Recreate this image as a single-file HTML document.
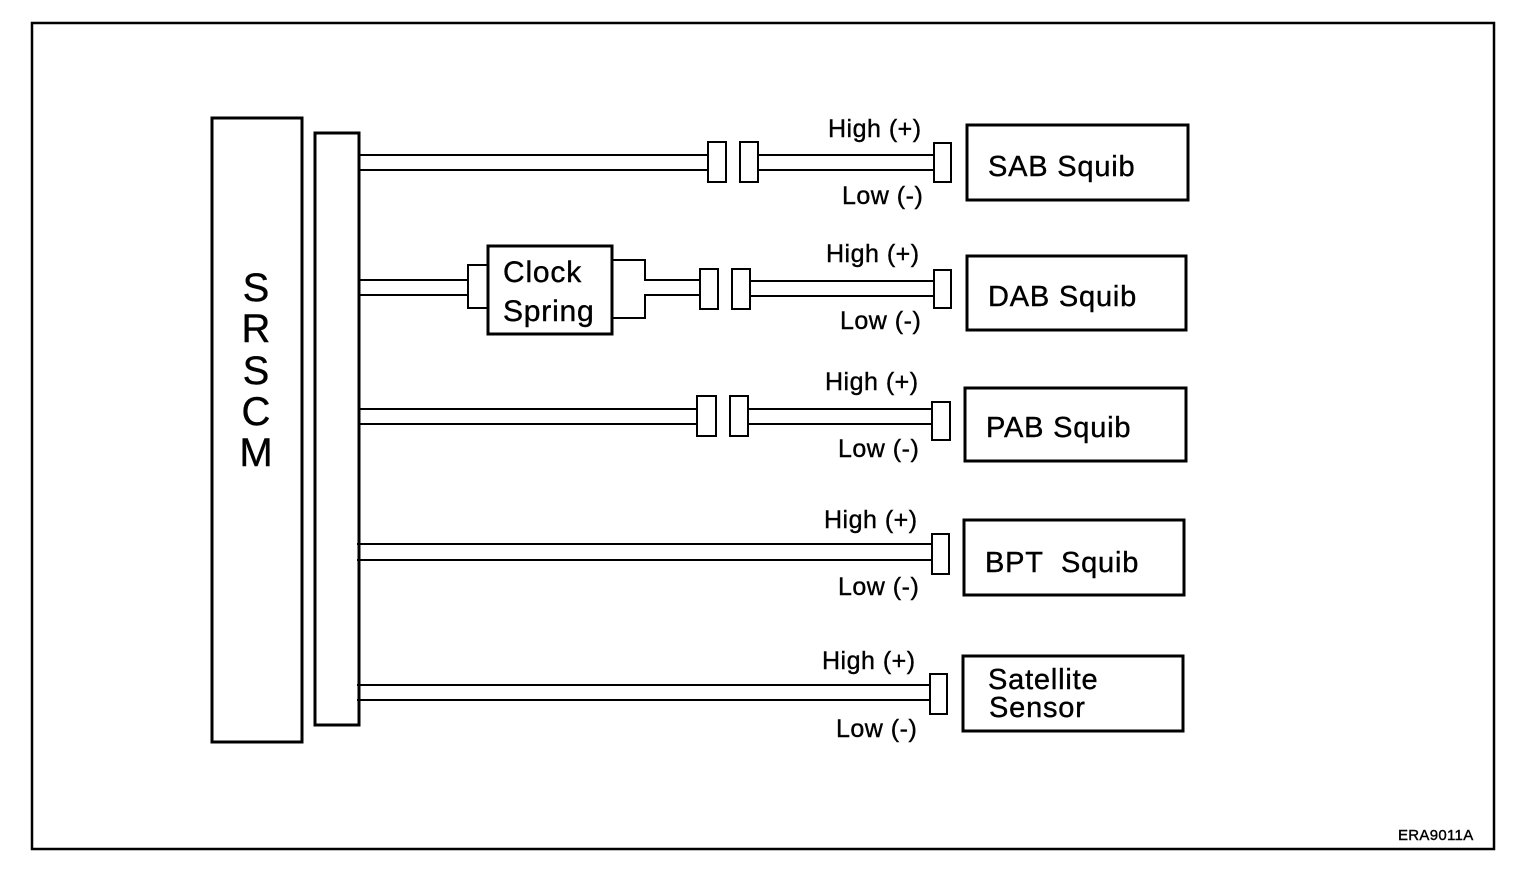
<!DOCTYPE html>
<html><head><meta charset="utf-8"><style>
html,body{margin:0;padding:0;background:#fff;}
svg{display:block;}
text{font-family:"Liberation Sans",Arial,sans-serif;fill:#000;stroke:#000;stroke-width:0.4;}
</style></head><body>
<svg width="1536" height="872" viewBox="0 0 1536 872" xmlns="http://www.w3.org/2000/svg">
<g fill="none" stroke="#000">
<rect x="32" y="23" width="1462" height="826" stroke-width="2.5"/>
<rect x="212" y="118" width="90" height="624" stroke-width="3"/>
<rect x="315" y="133" width="44" height="592" stroke-width="3"/>
<g stroke-width="2">
<line x1="359" y1="155" x2="708" y2="155"/><line x1="359" y1="170" x2="708" y2="170"/>
<rect x="708" y="142" width="18" height="40"/><rect x="740" y="142" width="18" height="40"/>
<line x1="758" y1="155" x2="934" y2="155"/><line x1="758" y1="170" x2="934" y2="170"/>
<rect x="934" y="143" width="17" height="39"/>
<line x1="359" y1="280" x2="468" y2="280"/><line x1="359" y1="295" x2="468" y2="295"/>
<rect x="468" y="265" width="20" height="43"/>
<polyline points="612,260 645,260 645,280 700,280"/>
<polyline points="612,318 645,318 645,295 700,295"/>
<rect x="700" y="269" width="18" height="40"/><rect x="732" y="269" width="18" height="40"/>
<line x1="750" y1="281" x2="934" y2="281"/><line x1="750" y1="296" x2="934" y2="296"/>
<rect x="934" y="270" width="17" height="38"/>
<line x1="359" y1="409" x2="697" y2="409"/><line x1="359" y1="424" x2="697" y2="424"/>
<rect x="697" y="396" width="19" height="40"/><rect x="730" y="396" width="18" height="40"/>
<line x1="748" y1="409" x2="932" y2="409"/><line x1="748" y1="424" x2="932" y2="424"/>
<rect x="932" y="402" width="18" height="38"/>
<line x1="357" y1="544" x2="932" y2="544"/><line x1="357" y1="560" x2="932" y2="560"/>
<rect x="932" y="534" width="17" height="40"/>
<line x1="357" y1="685" x2="930" y2="685"/><line x1="357" y1="700" x2="930" y2="700"/>
<rect x="930" y="674" width="17" height="40"/>
</g>
<g stroke-width="3">
<rect x="488" y="246" width="124" height="88"/>
<rect x="967" y="125" width="221" height="75"/>
<rect x="967" y="256" width="219" height="74"/>
<rect x="965" y="388" width="221" height="73"/>
<rect x="964" y="520" width="220" height="75"/>
<rect x="963" y="656" width="220" height="75"/>
</g>
</g>
<g font-size="40" text-anchor="middle">
<text x="256" y="301">S</text><text x="256" y="342">R</text><text x="256" y="384">S</text><text x="256" y="425">C</text><text x="256" y="466">M</text>
</g>
<g font-size="29" letter-spacing="0.8">
<text x="503" y="282" font-size="30">Clock</text><text x="503" y="321" font-size="30">Spring</text>
<text x="988" y="176">SAB Squib</text>
<text x="988" y="306">DAB Squib</text>
<text x="986" y="437">PAB Squib</text>
<text x="985" y="572" xml:space="preserve">BPT  Squib</text>
<text x="988" y="689">Satellite</text><text x="989" y="717">Sensor</text>
</g>
<g font-size="25" letter-spacing="0.5">
<text x="828" y="137">High (+)</text><text x="842" y="204">Low (-)</text>
<text x="826" y="262">High (+)</text><text x="840" y="329">Low (-)</text>
<text x="825" y="390">High (+)</text><text x="838" y="457">Low (-)</text>
<text x="824" y="528">High (+)</text><text x="838" y="595">Low (-)</text>
<text x="822" y="669">High (+)</text><text x="836" y="737">Low (-)</text>
</g>
<text x="1398" y="840" font-size="15" letter-spacing="0.3">ERA9011A</text>
</svg>
</body></html>
